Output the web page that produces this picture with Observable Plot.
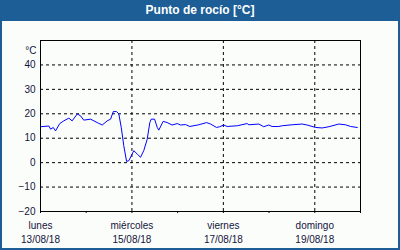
<!DOCTYPE html>
<html>
<head>
<meta charset="utf-8">
<script src="https://cdn.jsdelivr.net/npm/d3@7"></script>
<script src="https://cdn.jsdelivr.net/npm/@observablehq/plot@0.6"></script>
<style>
  html, body { margin: 0; padding: 0; background: #fbfdfb; }
  #wrap { position: relative; width: 400px; height: 250px; overflow: hidden; background: #fbfdfb; }
  #title { position: absolute; left: 0; top: 0; width: 400px; height: 21px; background: #1d5e96;
    color: #fff; font: bold 12px "Liberation Sans", Arial, sans-serif; text-align: center; line-height: 21px; }
  #chart { position: absolute; left: 0; top: 21px; }
  #border { position: absolute; left: 0; top: 0; width: 400px; height: 250px; box-sizing: border-box;
    border: 2px solid #1d5e96; pointer-events: none; }
</style>
</head>
<body>
<div id="wrap">
  <div id="title">Punto de rocío [°C]</div>
  <div id="chart"></div>
  <div id="border"></div>
</div>
<script>
// Hours since Monday 13/08/18 00:00 and dew point values (°C)
const hours = [0, 4.4, 5.3, 6.7, 7.9, 10.1, 12.2, 14.9, 16.6, 19.3, 21, 22.7, 26.3, 29.8, 32.4, 35, 36.8, 38.2, 39.9, 41.1, 42.4, 43.7, 45.2, 46.4, 48.1, 49, 50.8, 52.5, 54.2, 56, 57.4, 58.1, 59.9, 61.3, 62.1, 64.4, 66.5, 69.1, 71.8, 73.5, 76.1, 78.4, 83.1, 87.2, 89.3, 92.4, 94.1, 96.2, 98, 103.3, 108.5, 109.4, 114.6, 117.2, 119.8, 121.6, 125.1, 126.9, 132.1, 137.4, 140, 144.4, 147.9, 151.4, 156.6, 160.1, 162.8, 166.3];
const dewPoint = [14.7, 15, 13.7, 14.4, 13, 16, 17.1, 18.2, 17.1, 19.9, 19.2, 17.4, 17.8, 16.4, 15.4, 17.1, 17.8, 20.9, 20.9, 20, 14.4, 7, 0.5, 0.8, 3.5, 4.9, 3.5, 2.2, 4.9, 9.5, 16.4, 17.8, 17.8, 14.4, 13.3, 16.9, 16.4, 15.4, 16, 15.4, 15.6, 14.8, 15.5, 16.4, 15.8, 14.4, 14.7, 15.4, 14.8, 15.1, 16, 15.5, 15.8, 14.7, 15.4, 14.8, 14.8, 15.1, 15.5, 15.8, 15.4, 14.4, 14.2, 14.7, 15.8, 15.5, 14.8, 14.4];
const dayDates = ["2018-08-13", "2018-08-14", "2018-08-15", "2018-08-16", "2018-08-17", "2018-08-18", "2018-08-19", "2018-08-20"];
const labelDates = ["2018-08-13", "2018-08-15", "2018-08-17", "2018-08-19"];
const dayNames = ["lunes", "miércoles", "viernes", "domingo"];
const dateLabels = ["13/08/18", "15/08/18", "17/08/18", "19/08/18"];
const yTicks = [-20, -10, 0, 10, 20, 30, 40];
const yDomain = [-20, 50];
const unitLabel = "°C";

const start = new Date("2018-08-13T00:00:00Z");
const data = hours.map((h, i) => ({t: new Date(start.getTime() + h * 3600e3), v: dewPoint[i]}));
const days = dayDates.map(d => new Date(d + "T00:00:00Z"));
const labDays = labelDates.map(d => new Date(d + "T00:00:00Z"));
const labelOf = new Map(labDays.map((d, i) => [+d, dayNames[i] + "\n" + dateLabels[i]]));

const textColor = "#14143c";
const chart = Plot.plot({
  width: 400,
  height: 229,
  marginLeft: 40,
  marginRight: 40,
  marginTop: 19,
  marginBottom: 39,
  style: {fontFamily: "'Liberation Sans', Arial, sans-serif", fontSize: "10px", background: "transparent", color: textColor},
  x: {type: "utc", domain: [days[0], days[days.length - 1]]},
  y: {domain: yDomain},
  marks: [
    Plot.gridY(yTicks.filter(v => v > -20), {stroke: "#000", strokeOpacity: 1, strokeDasharray: "3,3"}),
    Plot.gridX(labDays.slice(1), {stroke: "#000", strokeOpacity: 1, strokeDasharray: "3,3"}),
    Plot.line(data, {x: "t", y: "v", stroke: "#0000ff", strokeWidth: 1}),
    Plot.frame({stroke: "#000"}),
    Plot.axisY(yTicks, {tickSize: 0, tickPadding: 5, fill: textColor, label: null}),
    Plot.text([unitLabel], {frameAnchor: "top-left", dx: -4, dy: 6, textAnchor: "end", fill: textColor}),
    Plot.axisX(days, {tickSize: 2, stroke: "#000", text: null, label: null}),
    Plot.axisX(labDays, {tickSize: 0, tickPadding: 8, tickFormat: d => labelOf.get(+d), lineHeight: 1.4, fill: textColor, label: null})
  ]
});
document.getElementById("chart").appendChild(chart);
</script>
</body>
</html>
